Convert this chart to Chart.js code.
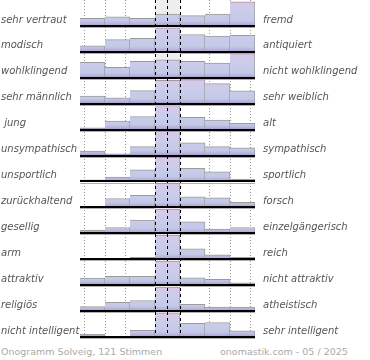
<!DOCTYPE html>
<html lang="de">
<head>
  <meta charset="UTF-8" />
  <title>Onogramm Solveig</title>
  <script src="https://cdn.jsdelivr.net/npm/chart.js"></script>
  <style>
    html, body { margin: 0; padding: 0; background: #fff; }
    #wrap { position: relative; width: 370px; height: 360px; overflow: hidden; }
    #box { position: absolute; left: 0; top: 0; width: 370px; height: 340px; }
    .foot { position: absolute; top: 346px; line-height: 12px; font: 9.5px "DejaVu Sans", sans-serif; color: #aaa; white-space: nowrap; }
  </style>
</head>
<body>
  <div id="wrap">
    <div id="box"><canvas id="chart"></canvas></div>
    <div class="foot" style="left:1px">Onogramm Solveig, 121 Stimmen</div>
    <div class="foot" style="left:220px">onomastik.com - 05 / 2025</div>
  </div>

  <script>
    // Skala mit 7 Stufen
    const columns = ['1', '2', '3', '4', '5', '6', '7'];

    const leftLabels = ['sehr vertraut', 'modisch', 'wohlklingend', 'sehr männlich', ' jung',
      'unsympathisch', 'unsportlich', 'zurückhaltend', 'gesellig', 'arm', 'attraktiv',
      'religiös', 'nicht intelligent'];

    const rightLabels = ['fremd', 'antiquiert', 'nicht wohlklingend', 'sehr weiblich', 'alt',
      'sympathisch', 'sportlich', 'forsch', 'einzelgängerisch', 'reich', 'nicht attraktiv',
      'atheistisch', 'sehr intelligent'];

    // Anteil je Stufe, relativ zum Maximum der Zeile (%)
    const votes = [
      [32, 38, 32, 49, 43, 49, 100],
      [25, 51, 56, 100, 72, 65, 68],
      [64, 43, 68, 74, 68, 61, 100],
      [32, 24, 54, 97, 100, 83, 53],
      [7, 35, 54, 100, 51, 40, 26],
      [19, 7, 37, 100, 53, 37, 32],
      [7, 18, 48, 100, 54, 40, 10],
      [4, 37, 50, 100, 44, 40, 21],
      [13, 24, 55, 100, 48, 18, 24],
      [2, 2, 8, 100, 43, 18, 8],
      [29, 37, 37, 100, 30, 24, 10],
      [19, 36, 44, 100, 28, 17, 17],
      [11, 0, 28, 100, 57, 60, 26]
    ];

    const nRows = votes.length;
    const barScale = 0.93;   // Anteil der Zeilenhöhe für 100 %
    const labelShift = 0.23; // Beschriftung etwas über der Grundlinie
    const mid = Math.floor(columns.length / 2);

    function rowFill(ctx) {
      const chart = ctx.chart;
      const y = chart.scales.y;
      const r = ctx.dataset.row;
      if (!y || r === undefined) return '#c6cbe9';
      const top = y.getPixelForValue(nRows - r);
      const base = y.getPixelForValue(nRows - 1 - r);
      if (!isFinite(top) || !isFinite(base)) return '#c6cbe9';
      const g = chart.ctx.createLinearGradient(0, top, 0, base);
      g.addColorStop(0, '#dec6e7');
      g.addColorStop(0.45, '#c9cdeb');
      g.addColorStop(0.8, '#c4c9e8');
      g.addColorStop(0.93, '#b6b0d9');
      g.addColorStop(1, '#a391c4');
      return g;
    }

    const barBase = { grouped: false, barPercentage: 1, categoryPercentage: 1, xAxisID: 'x', yAxisID: 'y' };

    const datasets = votes.map((vals, r) => Object.assign({
      row: r,
      order: 0,
      data: vals.map(v => v ? [nRows - 1 - r, nRows - 1 - r + v / 100 * barScale] : null),
      backgroundColor: rowFill,
      borderColor: '#9c9c9c',
      borderWidth: { top: 1, right: 1, left: 0, bottom: 0 },
      borderSkipped: 'bottom'
    }, barBase));

    // grauer Hintergrund der Mittelspalte
    datasets.push(Object.assign({
      order: 1,
      data: columns.map((c, i) => i === mid ? [0, nRows] : null),
      backgroundColor: '#eeeeee',
      borderWidth: 0
    }, barBase));

    const tickFont = { family: 'DejaVu Sans', size: 10, style: 'italic' };
    const rowOf = v => Math.round(nRows - 1 + labelShift - v);

    function gridAxis(values, color, width, dash, z) {
      return {
        type: 'linear', min: 0, max: columns.length, position: 'bottom',
        afterBuildTicks: s => { s.ticks = values.map(v => ({ value: v })); },
        afterFit: s => { s.height = 0; },
        ticks: { display: false },
        grid: { color: color, lineWidth: width, drawTicks: false, borderDash: dash, z: z },
        border: { display: false, dash: dash }
      };
    }

    function labelAxis(pos, labels, width, align) {
      return {
        type: 'linear', min: 0, max: nRows, position: pos,
        afterBuildTicks: s => { s.ticks = labels.map((l, r) => ({ value: nRows - 1 - r + labelShift })); },
        afterFit: s => { s.width = width; s.paddingTop = 0; s.paddingBottom = 0; },
        grid: { display: false, drawTicks: false },
        border: { display: false },
        ticks: {
          autoSkip: false, crossAlign: align, padding: 8,
          color: '#555', font: tickFont,
          callback: v => labels[rowOf(v)]
        }
      };
    }

    new Chart(document.getElementById('chart'), {
      type: 'bar',
      data: { labels: columns, datasets: datasets },
      options: {
        responsive: true,
        maintainAspectRatio: false,
        animation: false,
        layout: { padding: { left: 1, right: 0, top: 0, bottom: 3 } },
        plugins: { legend: { display: false }, tooltip: { enabled: false } },
        scales: {
          x: { type: 'category', display: false },
          xg: gridAxis([0, 1, 2, 5, 6, 7], '#999', 1, [1, 2], 0),
          xc: gridAxis([mid, mid + 1], '#000', 1, [3, 3], 1),
          y: {
            type: 'linear', min: 0, max: nRows, position: 'left',
            afterBuildTicks: s => { s.ticks = votes.map((v, r) => ({ value: r })); },
            afterFit: s => { s.width = 0; },
            ticks: { display: false },
            grid: { color: '#000', lineWidth: 2, drawTicks: false, z: 1 },
            border: { display: false }
          },
          // grauer Schatten unter der Grundlinie
          ys: {
            type: 'linear', min: 0, max: nRows, position: 'left',
            afterBuildTicks: s => { s.ticks = votes.map((v, r) => ({ value: r - 0.06 })); },
            afterFit: s => { s.width = 0; },
            ticks: { display: false },
            grid: { color: '#b0b0b0', lineWidth: 1, drawTicks: false },
            border: { display: false }
          },
          yl: labelAxis('left', leftLabels, 79, 'far'),
          yr: labelAxis('right', rightLabels, 115, 'near')
        }
      }
    });
  </script>
</body>
</html>
